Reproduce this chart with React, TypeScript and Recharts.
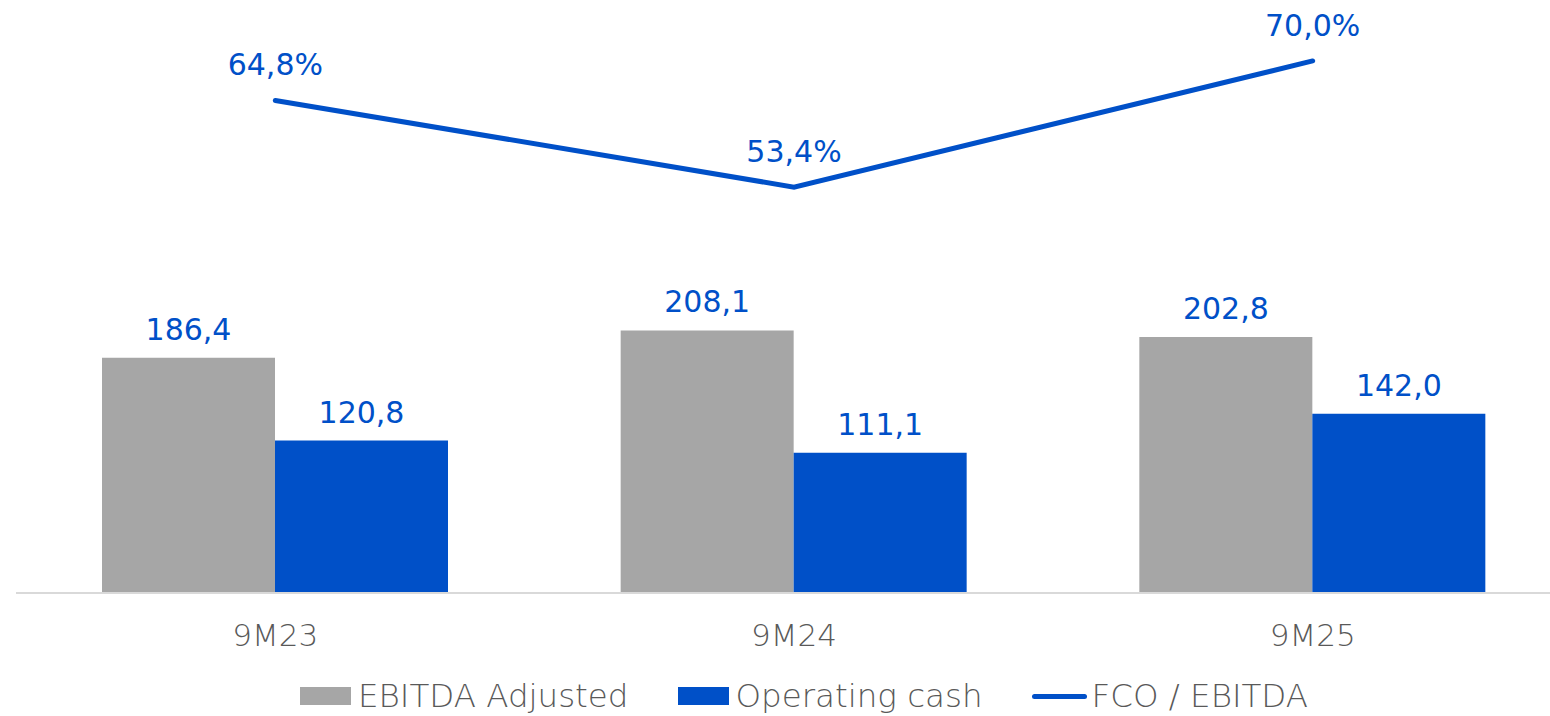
import { ComposedChart, Bar, Line, XAxis, YAxis, Legend, LabelList } from "recharts";

const periods = ["9M23", "9M24", "9M25"];
const ebitdaAdjusted = [186.4, 208.1, 202.8];
const operatingCash = [120.8, 111.1, 142.0];
const fcoOverEbitda = [64.8, 53.4, 70.0];

const BLUE = "#0050c8";
const GREY = "#a6a6a6";
const TEXT = "#595959";
const FONT = "'DejaVu Sans', sans-serif";

const data = periods.map((p, i) => ({
  period: p,
  ebitda: ebitdaAdjusted[i],
  cash: operatingCash[i],
  ratio: fcoOverEbitda[i],
}));

const fmt = (v: any) => Number(v).toFixed(1).replace(".", ",");

const legendItems = [
  { label: "EBITDA Adjusted", color: GREY, kind: "box" },
  { label: "Operating cash", color: BLUE, kind: "box" },
  { label: "FCO / EBITDA", color: BLUE, kind: "line" },
];

function ChartLegend() {
  return (
    <div style={{ display: "flex", alignItems: "center", height: 40, fontFamily: FONT, fontSize: 32.5, fontWeight: 200, color: TEXT }}>
      {legendItems.map((it) => (
        <div key={it.label} style={{ display: "flex", alignItems: "center", marginRight: 49 }}>
          {it.kind === "box" ? (
            <span style={{ display: "inline-block", width: 51, height: 18, background: it.color, marginRight: 7 }} />
          ) : (
            <span style={{ display: "inline-block", width: 55, height: 5, borderRadius: 3, background: it.color, marginRight: 5 }} />
          )}
          <span>{it.label}</span>
        </div>
      ))}
    </div>
  );
}

export default function App() {
  return (
    <div style={{ position: "absolute", left: 0, top: 0, width: 1550, height: 716, overflow: "hidden", background: "#fff" }}>
      <ComposedChart
        width={1572}
        height={716}
        data={data}
        margin={{ top: 10, right: 0, left: 16, bottom: 0 }}
        barGap={0}
      >
        <XAxis
          dataKey="period"
          height={83}
          axisLine={{ stroke: "#d9d9d9", strokeWidth: 2 }}
          tickLine={false}
          tickMargin={25}
          tick={{ fill: TEXT, fontSize: 31, fontFamily: FONT, fontWeight: 200 }}
        />
        <YAxis yAxisId="left" hide domain={[0, 462]} />
        <YAxis yAxisId="right" orientation="right" hide domain={[0, 76.7]} />
        <Legend
          verticalAlign="bottom"
          content={() => <ChartLegend />}
          wrapperStyle={{ left: 300, bottom: 0, width: 1200, height: 40 }}
        />
        <Bar yAxisId="left" dataKey="ebitda" name="EBITDA Adjusted" fill={GREY} barSize={173} isAnimationActive={false}>
          <LabelList dataKey="ebitda" position="top" offset={18} formatter={fmt} fill={BLUE} fontSize={30} fontFamily={FONT} />
        </Bar>
        <Bar yAxisId="left" dataKey="cash" name="Operating cash" fill={BLUE} barSize={173} isAnimationActive={false}>
          <LabelList dataKey="cash" position="top" offset={18} formatter={fmt} fill={BLUE} fontSize={30} fontFamily={FONT} />
        </Bar>
        <Line
          yAxisId="right"
          type="linear"
          dataKey="ratio"
          name="FCO / EBITDA"
          stroke={BLUE}
          strokeWidth={5}
          strokeLinecap="round"
          dot={false}
          activeDot={false}
          isAnimationActive={false}
        >
          <LabelList dataKey="ratio" position="top" offset={25} formatter={(v: any) => `${fmt(v)}%`} fill={BLUE} fontSize={30} fontFamily={FONT} />
        </Line>
      </ComposedChart>
    </div>
  );
}
